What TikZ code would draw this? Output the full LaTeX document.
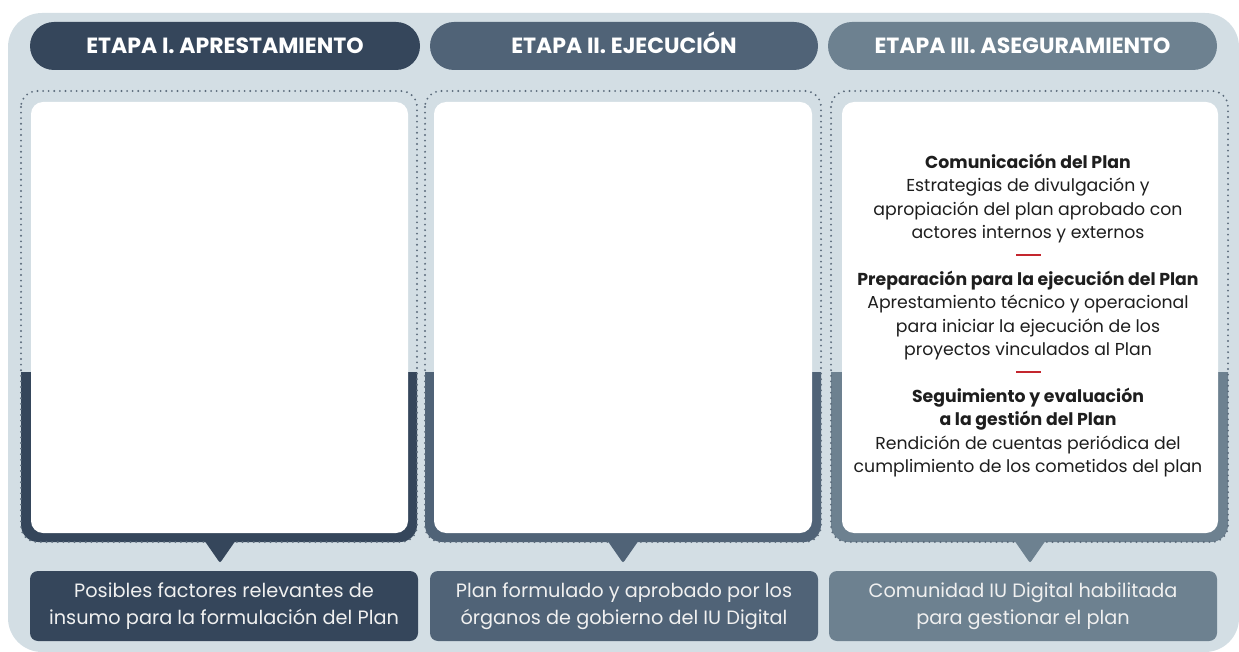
\documentclass[tikz,border=0pt]{standalone}
\usepackage{fontspec}
\setmainfont{Poppins}
\definecolor{bgc}{HTML}{D3DEE4}
\definecolor{cA}{HTML}{35465B}
\definecolor{cB}{HTML}{506377}
\definecolor{cC}{HTML}{6D8190}
\definecolor{dotc}{HTML}{5B6B7B}
\definecolor{redc}{HTML}{C4262E}
\definecolor{txt}{HTML}{1E1E1E}
\tikzset{
  hdr/.style={minimum width=#1, minimum height=48pt, rounded corners=24pt, inner sep=0pt, text=white,
     text height=15.5pt, text depth=0pt,
     font=\fontsize{22}{24}\selectfont\bfseries},
  foot/.style={minimum width=#1, minimum height=70pt, rounded corners=8pt, inner sep=0pt, text=white!94!black,
     align=center, font=\fontsize{19.3}{27}\selectfont},
  body/.style={align=center, inner sep=0pt, text=txt, font=\fontsize{17.3}{23.3}\selectfont},
  dotline/.style={draw=dotc, line width=2.1pt, line cap=round, dash pattern=on 0pt off 5.6pt},
  reddash/.style={draw=redc, line width=2.6pt},
}
\begin{document}
\begin{tikzpicture}[x=1pt,y=-1pt]
\useasboundingbox (0,0) rectangle (1239,652);
\fill[bgc, rounded corners=34pt] (8,13) rectangle (1239,652);
% columns: L R l r color pointer
\foreach \L/\R/\l/\r/\c/\p in {21/417/31/408/cA/220, 425/821/434/812/cB/623, 831/1228/842/1218/cC/1030}{
  \begin{scope}
    \clip (\L-5,372) rectangle (\R+5,600);
    \fill[\c, rounded corners=17pt] (\L,91) rectangle (\R,542);
  \end{scope}
  \draw[dotline, rounded corners=16pt] (\L,91) rectangle (\R,542);
  \fill[white, rounded corners=12pt] (\l,102) rectangle (\r,533);
  \fill[\c, rounded corners=2pt] (\p-16,540) -- (\p+16,540) -- (\p,563) -- cycle;
}
% headers
\node[hdr=390pt, fill=cA] (h1) at (225,46) {ETAPA I. APRESTAMIENTO};
\node[hdr=388pt, fill=cB] (h2) at (624,46) {ETAPA II. EJECUCIÓN};
\node[hdr=389pt, fill=cC] (h3) at (1022.5,46) {ETAPA III. ASEGURAMIENTO};
% footers
\node[foot=388pt, fill=cA] (f1) at (224,606) {Posibles factores relevantes de\\insumo para la formulación del Plan};
\node[foot=388pt, fill=cB] (f2) at (624,606) {Plan formulado y aprobado por los\\órganos de gobierno del IU Digital};
\node[foot=388pt, fill=cC] (f3) at (1023,606) {Comunidad IU Digital habilitada\\para gestionar el plan};
% body text col 3
\node[body] (b1) at (1028,198.5) {{\bfseries Comunicación del Plan}\\Estrategias de divulgación y\\apropiación del plan aprobado con\\actores internos y externos};
\draw[reddash] (1016,255) -- (1041,255);
\node[body] (b2) at (1028,315.5) {{\bfseries Preparación para la ejecución del Plan}\\Aprestamiento técnico y operacional\\para iniciar la ejecución de los\\proyectos vinculados al Plan};
\draw[reddash] (1016,372) -- (1041,372);
\node[body] (b3) at (1028,432.5) {{\bfseries Seguimiento y evaluación}\\{\bfseries a la gestión del Plan}\\Rendición de cuentas periódica del\\cumplimiento de los cometidos del plan};
\end{tikzpicture}
\end{document}
